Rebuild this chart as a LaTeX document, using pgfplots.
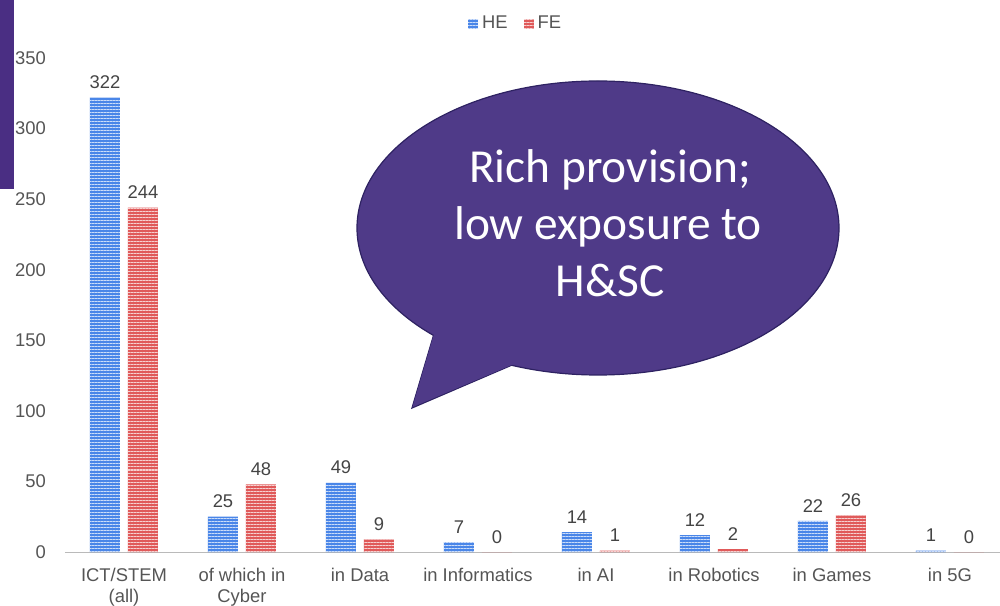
\documentclass[border=0pt]{standalone}
\usepackage{pgfplots}
\pgfplotsset{compat=1.18}
\usepackage{fontspec}
\setmainfont{Liberation Sans}
\newfontfamily\bubblefont{Carlito}
\usetikzlibrary{patterns.meta}
\definecolor{hecol}{HTML}{4A86E8}
\definecolor{fecol}{HTML}{E05A5A}
\definecolor{bubble}{HTML}{4F3A88}
\definecolor{bubbleline}{HTML}{2E2262}
\definecolor{sidebar}{HTML}{4A2E83}
\definecolor{txt}{HTML}{555555}
\definecolor{lbl}{HTML}{444444}
\newcommand\chartfont{\fontsize{9.2}{10.5}\selectfont}

\begin{document}
\begin{tikzpicture}
\useasboundingbox (0,0) rectangle (500pt,302.5pt);
\begin{axis}[
  at={(32.5pt,26.5pt)}, anchor=south west,
  scale only axis, width=467.5pt, height=247pt,
  xmin=-0.5, xmax=7.424, ymin=0, ymax=350,
  ybar=4pt, bar width=15pt,
  axis lines*=left,
  y axis line style={draw=none},
  x axis line style={draw=black!27, line width=0.5pt},
  major tick length=0pt,
  xtick={0,...,7},
  xticklabels={{ICT/STEM\\(all)},{of which in\\Cyber},{in Data},{in Informatics},{in AI},{in Robotics},{in Games},{in 5G}},
  xticklabel style={align=center, font=\chartfont, text=txt, yshift=-4.5pt},
  ytick={0,50,...,350},
  yticklabel style={font=\chartfont, text=txt, xshift=-6pt},
  /pgf/number format/assume math mode=true,
  nodes near coords,
  nodes near coords style={font=\chartfont, text=lbl, yshift=0.8pt},
  clip=false,
  legend style={at={(0.483,1.069)}, anchor=center, draw=none, fill=none,
    legend columns=2, font=\chartfont, text=txt,
    /tikz/every even column/.append style={column sep=6pt}},
  legend image code/.code={\fill[#1] (0pt,-2.5pt) rectangle (5pt,2.5pt);},
]
\addplot[fill=hecol, draw=none,
  postaction={pattern={Lines[angle=0,distance=1.5pt,line width=0.5pt]}, pattern color=white!72!hecol}]
  coordinates {(0,322) (1,25) (2,49) (3,7) (4,14) (5,12) (6,22) (7,1)};
\addplot[fill=fecol, draw=none,
  postaction={pattern={Lines[angle=0,distance=1.5pt,line width=0.5pt]}, pattern color=white!72!fecol}]
  coordinates {(0,244) (1,48) (2,9) (3,0) (4,1) (5,2) (6,26) (7,0)};
\legend{HE,FE}
\end{axis}
\begin{scope}[x=0.5pt,y=-0.5pt,shift={(0pt,302.5pt)}]
  \fill[sidebar] (0,0) rectangle (14,189);
  \filldraw[fill=bubble, draw=bubbleline, line width=0.6pt, line join=miter]
    (444,300) -- (412,408) -- (540,353);
  \filldraw[fill=bubble, draw=bubbleline, line width=0.6pt]
    (598,228) ellipse [x radius=241, y radius=147];
  \fill[bubble] (444,300) -- (412.5,407) -- (540,353) -- cycle;
  \node[anchor=base, text=white, inner sep=0pt, font=\bubblefont\fontsize{23.7}{28.5}\selectfont] at (610,183) {Rich provision;};
  \node[anchor=base, text=white, inner sep=0pt, font=\bubblefont\fontsize{23.7}{28.5}\selectfont] at (608,240) {low exposure to};
  \node[anchor=base, text=white, inner sep=0pt, font=\bubblefont\fontsize{23.7}{28.5}\selectfont] at (610,297) {H\&SC};
\end{scope}
\end{tikzpicture}
\end{document}
